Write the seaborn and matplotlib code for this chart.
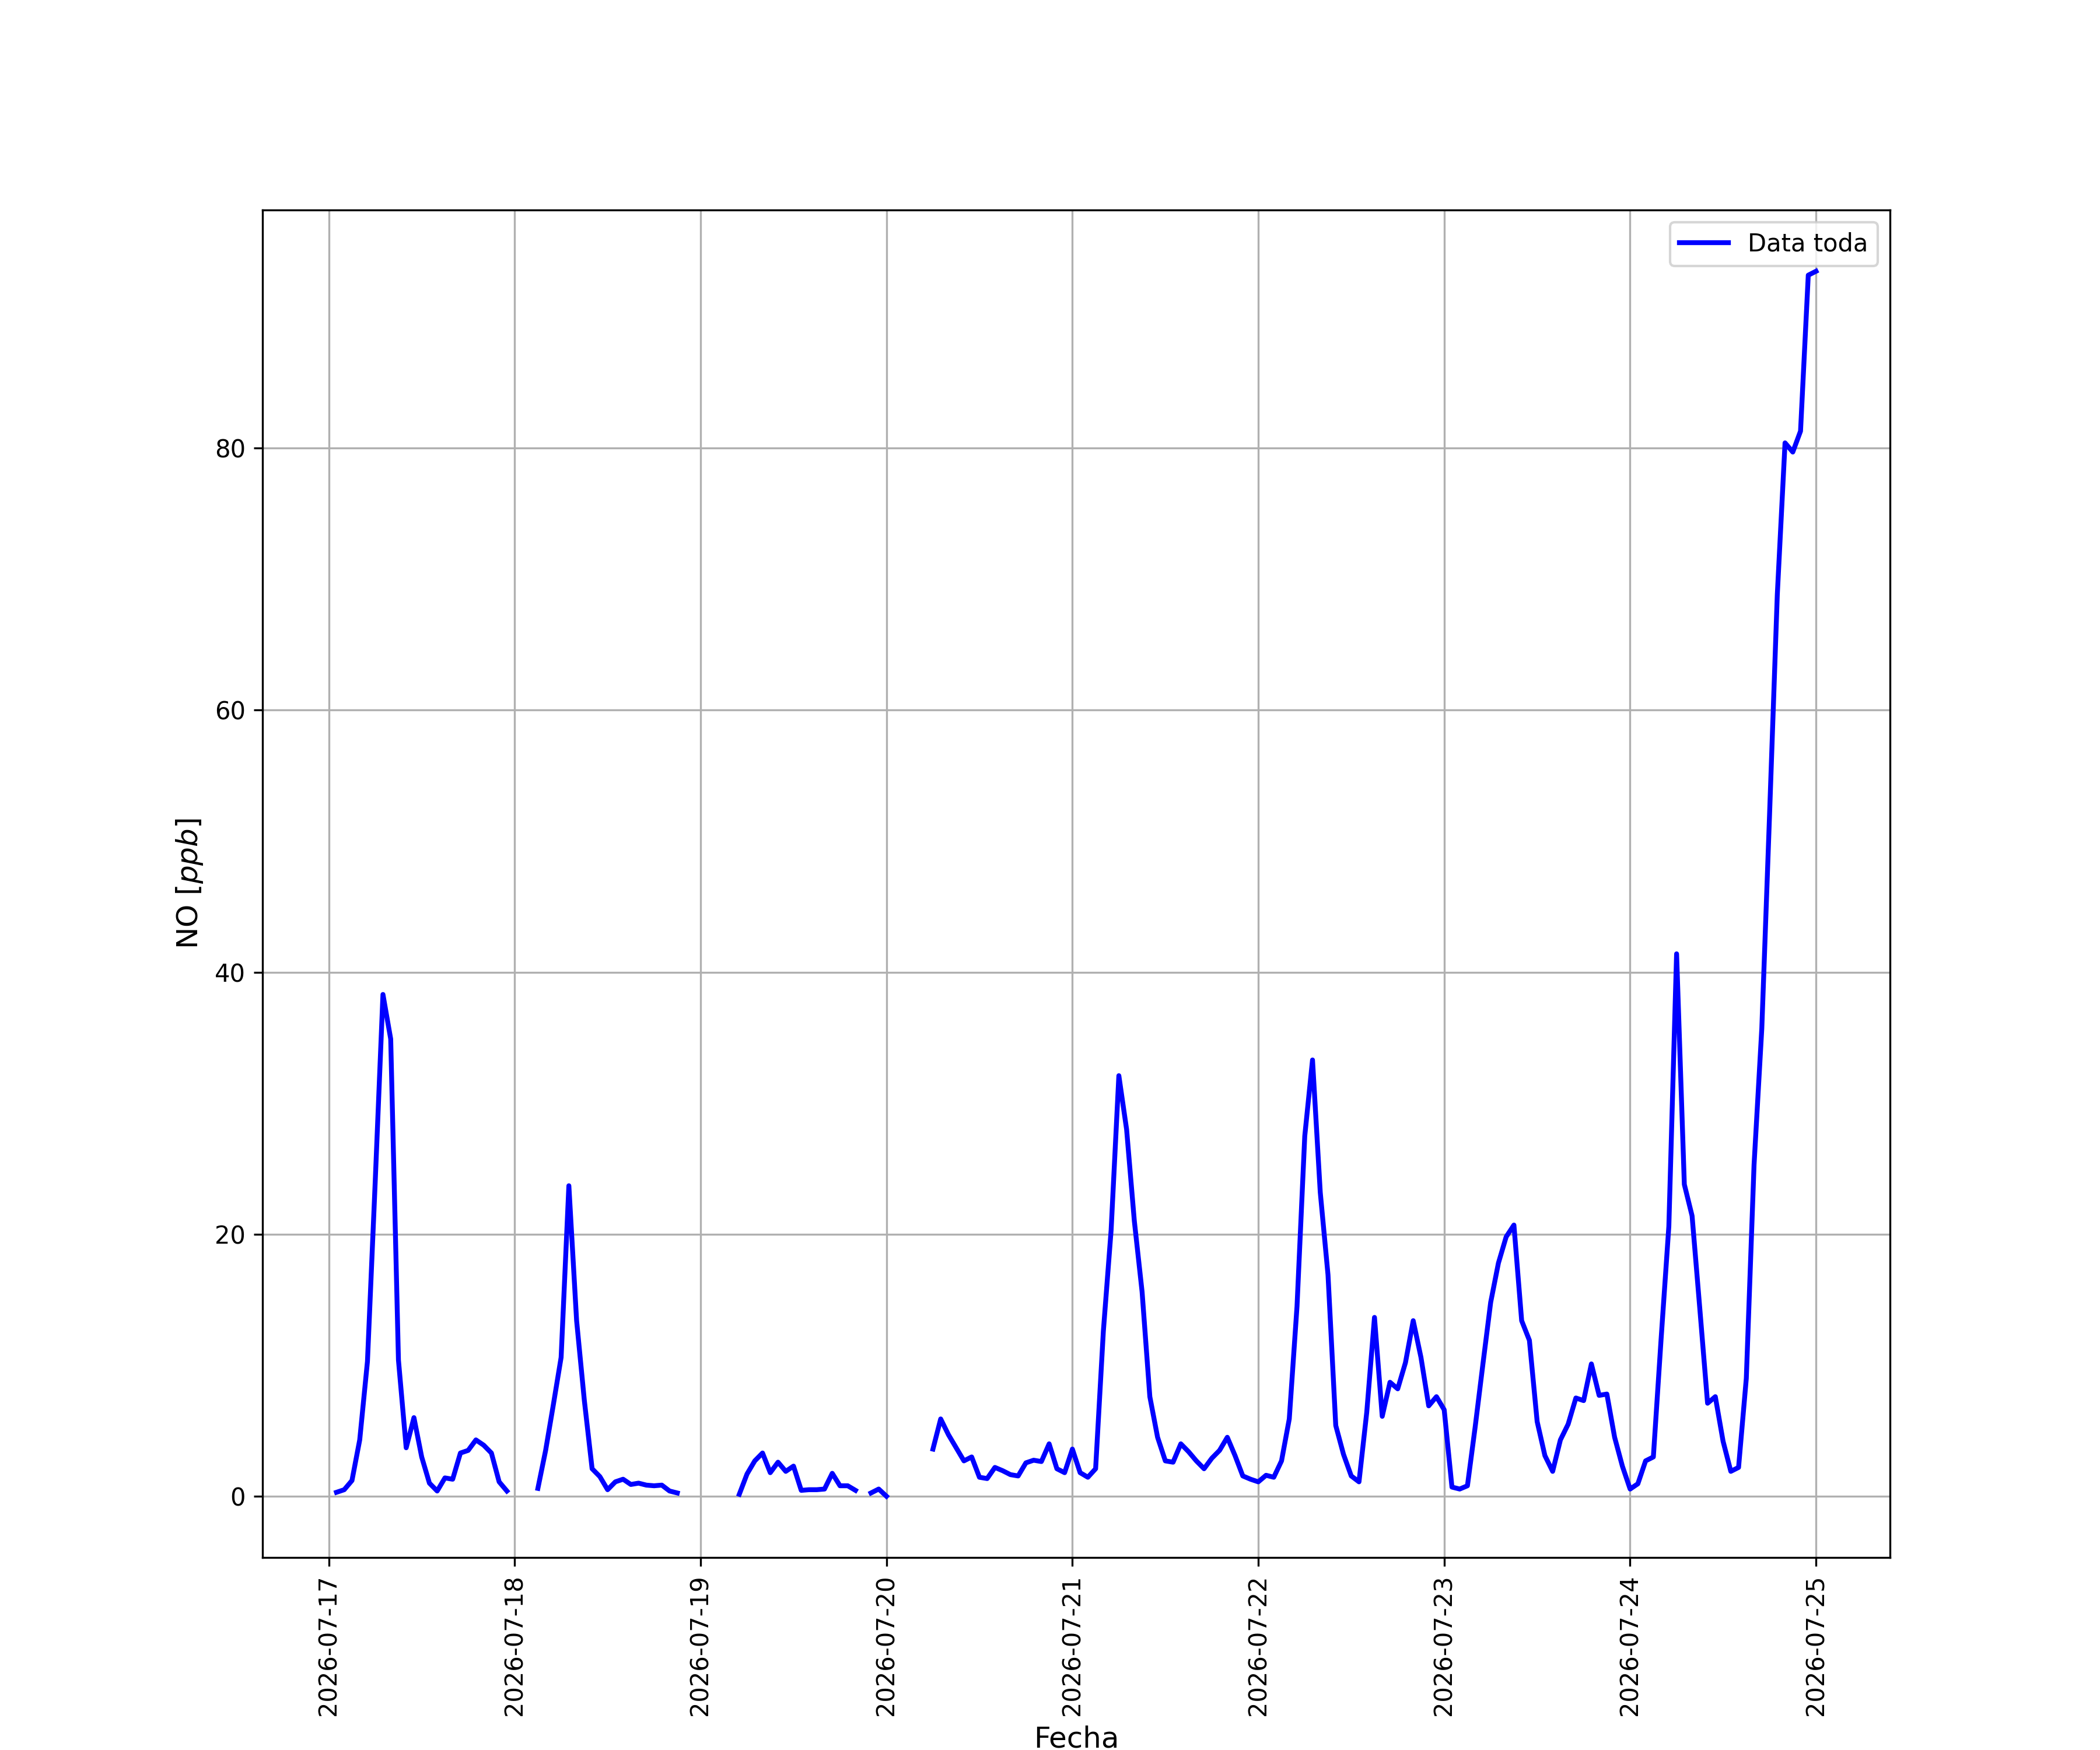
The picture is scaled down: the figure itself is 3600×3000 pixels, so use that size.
import matplotlib
matplotlib.use("Agg")
import matplotlib.pyplot as plt
import matplotlib.dates as mdates
import seaborn as sns
import pandas as pd
import numpy as np

nan = np.nan

# Valores horarios de NO [ppb], 00:00 a 23:00 de cada día (NaN = sin dato)
dia_17 = [nan, 0.3, 0.5, 1.2, 4.3, 10.3, 24.0, 38.3, 34.9, 10.4, 3.7, 6.0,
          3.0, 1.0, 0.4, 1.4, 1.3, 3.3, 3.5, 4.3, 3.9, 3.3, 1.1, 0.4]
dia_18 = [nan, nan, nan, 0.6, 3.5, 7.0, 10.6, 23.7, 13.4, 7.3, 2.1, 1.5,
          0.5, 1.1, 1.3, 0.9, 1.0, 0.85, 0.8, 0.85, 0.4, 0.25, nan, nan]
dia_19 = [nan, nan, nan, nan, nan, 0.15, 1.7, 2.7, 3.3, 1.8, 2.6, 1.9,
          2.3, 0.45, 0.5, 0.5, 0.55, 1.75, 0.8, 0.8, 0.45, nan, 0.25, 0.55]
dia_20 = [0.0, nan, nan, nan, nan, nan, 3.6, 5.9, 4.7, 3.7, 2.7, 3.0,
          1.45, 1.35, 2.2, 1.95, 1.65, 1.55, 2.55, 2.75, 2.65, 4.0, 2.1, 1.8]
dia_21 = [3.6, 1.8, 1.45, 2.1, 12.6, 20.3, 32.1, 28.0, 21.0, 15.6, 7.6, 4.5,
          2.7, 2.6, 4.0, 3.4, 2.7, 2.1, 2.9, 3.5, 4.5, 3.1, 1.55, 1.3]
dia_22 = [1.1, 1.6, 1.45, 2.7, 5.9, 14.5, 27.5, 33.3, 23.2, 16.9, 5.4, 3.2,
          1.55, 1.1, 6.4, 13.65, 6.1, 8.7, 8.2, 10.2, 13.4, 10.6, 6.9, 7.6]
dia_23 = [6.6, 0.7, 0.55, 0.8, 5.3, 10.1, 14.8, 17.8, 19.8, 20.7, 13.4, 11.9,
          5.7, 3.1, 1.9, 4.3, 5.5, 7.5, 7.3, 10.1, 7.7, 7.8, 4.5, 2.3]
dia_24 = [0.55, 0.95, 2.7, 3.0, 12.0, 20.6, 41.4, 23.8, 21.4, 14.3, 7.1, 7.6,
          4.2, 1.9, 2.2, 9.0, 25.3, 35.7, 52.0, 68.8, 80.4, 79.7, 81.3, 93.2]
dia_25 = [93.5]

valores = dia_17 + dia_18 + dia_19 + dia_20 + dia_21 + dia_22 + dia_23 + dia_24 + dia_25
fechas = pd.date_range("2026-07-17 00:00", periods=len(valores), freq="h")

df = pd.DataFrame({"Fecha": fechas, "NO": valores})
# tramos continuos para que los huecos no se unan
df["tramo"] = df["NO"].isna().cumsum()
df = df.dropna(subset=["NO"])

fig, ax = plt.subplots(figsize=(12, 10), dpi=300)
sns.lineplot(data=df, x="Fecha", y="NO", units="tramo", estimator=None,
             color="blue", linewidth=2, ax=ax)

handles = [plt.Line2D([], [], color="blue", linewidth=2)]
ax.legend(handles, ["Data toda"], loc="upper right")

ax.xaxis.set_major_locator(mdates.DayLocator())
ax.xaxis.set_major_formatter(mdates.DateFormatter("%Y-%m-%d"))
plt.setp(ax.get_xticklabels(), rotation=90)
ax.set_xlabel("Fecha", fontsize=12)
ax.set_ylabel("NO [$ppb$]", fontsize=12)
ax.grid(True)

fig.savefig("out.png", dpi=300)
